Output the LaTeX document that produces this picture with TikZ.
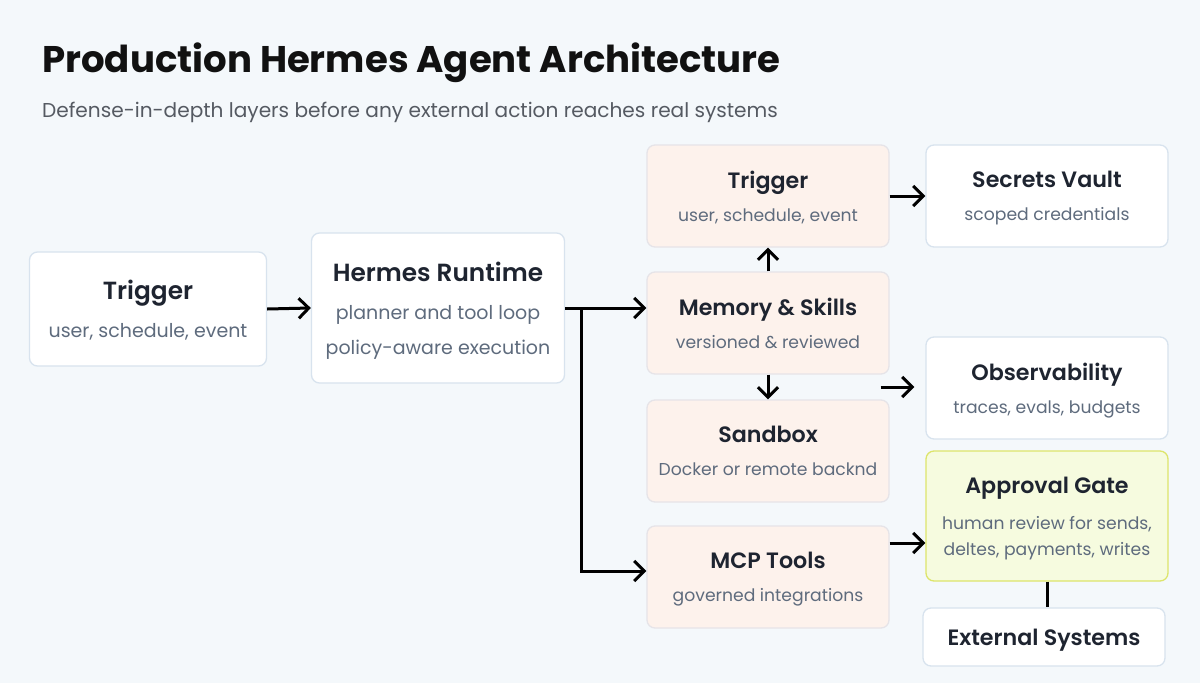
\documentclass[tikz,border=0pt]{standalone}
\usepackage{fontspec}
\setmainfont{Poppins}
\newfontfamily\semiFont{Poppins SemiBold}
\usetikzlibrary{arrows.meta,positioning,calc}
\definecolor{pageFill}{HTML}{F4F8FB}
\definecolor{plainStroke}{HTML}{D8E3EE}
\definecolor{peachFill}{HTML}{FDF2EC}
\definecolor{peachStroke}{HTML}{E6E4E8}
\definecolor{gateFill}{HTML}{F6FBDF}
\definecolor{gateStroke}{HTML}{DDE56B}
\definecolor{textMain}{HTML}{111111}
\definecolor{textHead}{HTML}{1E2430}
\definecolor{textMuted}{HTML}{5E6B7D}
\definecolor{textSub}{HTML}{555A62}
\newcommand{\headFont}{\fontsize{22.2}{26}\selectfont\semiFont\color{textHead}}
\newcommand{\bigHead}{\fontsize{24.8}{29}\selectfont\semiFont\color{textHead}}

\begin{document}
\begin{tikzpicture}[
    x=1pt, y=-1pt,
    >={Straight Barb[length=10pt,width=20pt]},
    font=\fontsize{17.2}{33}\selectfont\color{textMuted},
    plainNode/.style={
        rectangle, rounded corners=8pt,
        draw=plainStroke, line width=1.3pt,
        fill=white,
        minimum width=242pt, minimum height=102pt,
        align=center, inner sep=0pt, text depth=-2pt
    },
    peachNode/.style={
        plainNode, draw=peachStroke, fill=peachFill
    },
    gateNode/.style={
        plainNode, draw=gateStroke, fill=gateFill
    },
    bigText/.style={font=\fontsize{19}{38}\selectfont\color{textMuted}},
    flow/.style={->, line width=3pt, draw=black},
    link/.style={line width=3pt, draw=black}
]

\fill[pageFill] (0,0) rectangle (1200,683);
\useasboundingbox (0,0) rectangle (1200,683);

% Heading
\node[anchor=base west, font=\fontsize{37.1}{42}\selectfont\bfseries\color{textMain}, inner sep=0pt]
  (Title) at (42,72) {Production Hermes Agent Architecture};
\node[anchor=base west, font=\fontsize{20.1}{24}\selectfont\color{textSub}, inner sep=0pt]
  (Subtitle) at (42,117) {Defense-in-depth layers before any external action reaches real systems};

% Left column
\node[plainNode, bigText, minimum width=237pt, minimum height=114pt] (TriggerIn) at (148,309)
  {{\bigHead Trigger}\\user, schedule, event};
\node[plainNode, bigText, minimum width=253pt, minimum height=150pt] (Runtime) at (438,308)
  {{\bigHead Hermes Runtime}\\planner and tool loop\\[-3pt]policy-aware execution};

% Middle column
\node[peachNode] (TriggerMid) at (768,196)
  {{\headFont Trigger}\\user, schedule, event};
\node[peachNode] (Memory) at (768,323)
  {{\headFont Memory \& Skills}\\versioned \& reviewed};
\node[peachNode] (Sandbox) at (768,451)
  {{\headFont Sandbox}\\Docker or remote backnd};
\node[peachNode] (Tools) at (768,577)
  {{\headFont MCP Tools}\\governed integrations};

% Right column
\node[plainNode] (Vault) at (1047,196)
  {{\headFont Secrets Vault}\\scoped credentials};
\node[plainNode] (Observe) at (1047,388)
  {{\headFont Observability}\\traces, evals, budgets};
\node[gateNode, minimum height=130pt] (Gate) at (1047,516)
  {{\headFont Approval Gate}\\[3pt]human review for sends,\\[-7pt]deltes, payments, writes};
\node[plainNode, minimum height=58pt] (External) at (1044,637)
  {{\headFont External Systems}};

\coordinate (Split) at ($(Runtime.east)+(16,0)$);
\coordinate (ObsTail) at ($(Memory.south east)!0.5!(Sandbox.north east)+(-9,0)$);
\coordinate (GateTail) at ($(Tools.east)+(0,-34)$);

\draw[flow] (TriggerIn.east) -- (Runtime.west);
\draw[flow] (Runtime.east) -- (Memory.west |- Runtime.east);
\draw[flow] (Split) |- ($(Tools.west)+(0,-6)$);
\draw[flow] (Memory.north) -- (TriggerMid.south);
\draw[flow] (Memory.south) -- (Sandbox.north);
\draw[flow] (TriggerMid.east) -- (Vault.west);
\draw[flow, shorten >=11pt] (ObsTail) -- (ObsTail -| Observe.west);
\draw[flow] (GateTail) -- (GateTail -| Gate.west);
\draw[link] (Gate.south) -- (Gate.south |- External.north);

\end{tikzpicture}
\end{document}
